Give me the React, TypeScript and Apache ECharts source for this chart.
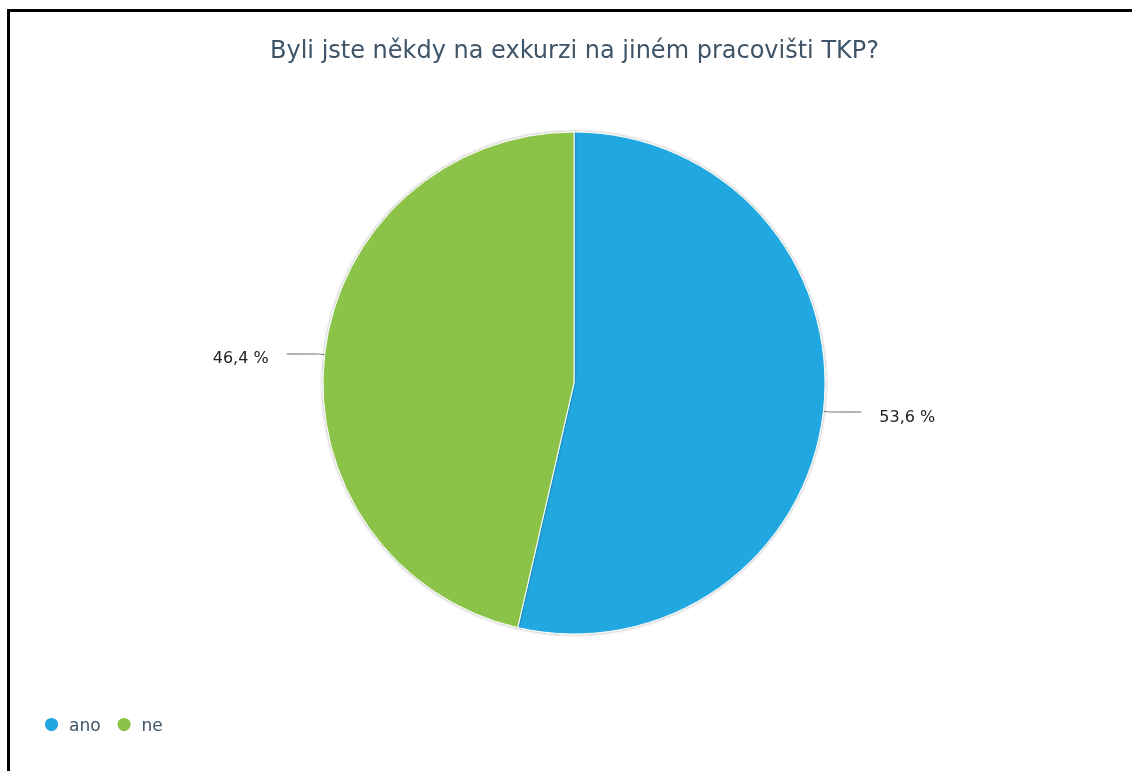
import React, { useEffect, useRef } from "react";
import * as echarts from "echarts";

const titleText = "Byli jste někdy na exkurzi na jiném pracovišti TKP?";
const categories = ["ano", "ne"];
const values = [53.6, 46.4];
const colors = ["#22a8e0", "#8bc34a"];

export default function App() {
  const ref = useRef<HTMLDivElement>(null);
  useEffect(() => {
    if (!ref.current) return;
    const chart = echarts.init(ref.current, null, { renderer: "svg" });
    chart.setOption({
      animation: false,
      title: {
        text: titleText,
        left: 270,
        top: 38,
        padding: 0,
        textStyle: {
          fontFamily: "DejaVu Sans",
          fontSize: 24,
          fontWeight: "normal",
          color: "#3e5468",
        },
      },
      legend: {
        left: 43,
        top: 716,
        padding: 0,
        icon: "circle",
        itemWidth: 15,
        itemHeight: 15,
        itemGap: 15,
        data: categories,
        textStyle: {
          fontFamily: "DejaVu Sans",
          fontSize: 17,
          lineHeight: 17,
          color: "#3e5468",
          padding: [0, 0, 0, 5],
        },
      },
      series: [
        {
          type: "pie",
          center: [574, 383],
          radius: 251,
          startAngle: 90,
          clockwise: true,
          data: categories.map((c, i) => ({
            name: c,
            value: values[i],
            itemStyle: { color: colors[i] },
          })),
          itemStyle: {
            borderColor: "#ffffff",
            borderWidth: 1,
            shadowBlur: 3,
            shadowColor: "rgba(0,0,0,0.4)",
          },
          label: {
            show: true,
            formatter: (p: any) => p.value.toFixed(1).replace(".", ",") + " %",
            fontFamily: "DejaVu Sans",
            fontSize: 16,
            color: "#222",
            distanceToLabelLine: 18,
          },
          labelLayout: { dy: 4 },
          labelLine: {
            show: true,
            length: 6,
            length2: 32,
            smooth: 0.3,
            lineStyle: { color: "#666", width: 1 },
          },
          emphasis: { disabled: true },
        },
      ],
    });
    return () => chart.dispose();
  }, []);
  return (
    <>
      <div
        style={{
          position: "fixed",
          left: 7,
          top: 9,
          width: 1300,
          height: 900,
          border: "3px solid #000",
          boxSizing: "border-box",
        }}
      />
      <div
        ref={ref}
        style={{ position: "fixed", left: 0, top: 0, width: 1132, height: 771 }}
      />
    </>
  );
}
